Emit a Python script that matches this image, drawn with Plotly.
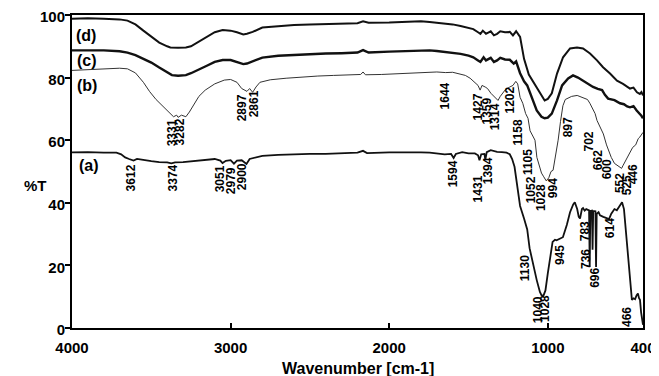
import plotly.graph_objects as go

# ---------------- data ----------------
wn_d = [4000,3900,3800,3700,3650,3600,3550,3500,3450,3400,3380,3331,3282,3250,3200,3150,3100,3050,3000,2960,2920,2897,2861,2800,2700,2600,2500,2400,2300,2200,2165,2130,2000,1900,1800,1745,1700,1650,1600,1550,1500,1470,1440,1425,1410,1390,1360,1340,1320,1300,1270,1240,1220,1200,1175,1150,1120,1090,1060,1040,1020,1000,975,942,904,860,816,778,734,690,652,608,564,526,500,482,460,438,420,410,400]
t_d = [98.8,99.0,98.8,98.6,98.2,97.0,95.0,93.0,91.2,90.0,89.6,89.5,89.6,90.0,91.5,93.2,94.5,95.2,95.0,94.5,93.8,94.0,94.6,96.0,96.5,96.8,97.0,97.2,97.3,97.4,98.0,97.5,97.6,97.8,98.0,97.8,97.6,97.4,97.0,96.5,96.0,95.5,94.5,94.0,95.0,94.0,94.8,93.5,94.0,94.8,94.5,94.6,93.5,94.8,93.0,86.0,81.0,78.5,76.0,74.0,72.7,73.2,75.0,81.3,86.5,89.3,89.6,89.3,87.7,85.5,83.3,81.3,79.0,78.0,77.2,76.5,76.8,75.3,74.8,75.4,74.3]

wn_c = [4000,3900,3800,3700,3650,3600,3550,3500,3450,3400,3370,3331,3282,3250,3200,3150,3100,3050,3000,2960,2920,2897,2861,2800,2700,2600,2500,2400,2300,2200,2165,2130,2000,1900,1800,1745,1700,1650,1600,1550,1500,1470,1440,1425,1405,1390,1360,1340,1320,1300,1270,1240,1215,1200,1175,1150,1130,1100,1070,1040,1020,1000,975,942,910,872,841,810,778,745,715,685,658,640,620,580,545,520,500,482,460,440,419,410,400]
t_c = [88.7,88.8,88.7,88.4,88.0,87.2,86.0,84.8,83.2,81.6,80.8,80.6,80.8,81.4,82.5,83.8,85.0,85.6,85.6,85.0,84.3,84.5,85.2,86.4,87.0,87.3,87.5,87.7,87.8,88.0,88.8,88.0,88.3,88.5,88.7,88.7,88.5,88.2,88.0,87.6,87.0,86.5,85.5,85.0,86.5,85.5,86.3,85.0,85.5,86.3,85.8,85.7,84.5,85.2,81.4,78.8,77.5,73.7,69.5,67.5,67.0,67.2,68.5,72.7,77.5,79.7,80.7,80.0,79.0,77.8,77.0,76.4,76.0,74.5,73.3,72.8,71.8,71.5,70.8,70.5,70.9,69.5,68.5,67.8,67.0]

wn_b = [4000,3900,3800,3700,3650,3600,3550,3510,3470,3420,3380,3360,3340,3331,3310,3282,3260,3230,3200,3160,3100,3040,3000,2960,2930,2897,2880,2861,2840,2815,2750,2650,2560,2450,2350,2250,2180,2165,2150,2050,1930,1850,1745,1700,1644,1600,1560,1520,1490,1460,1440,1427,1415,1395,1380,1359,1340,1314,1300,1270,1240,1220,1202,1190,1175,1158,1140,1125,1112,1095,1081,1069,1052,1040,1028,1010,994,980,967,950,935,920,905,890,850,815,780,750,735,702,690,662,650,630,610,600,580,565,552,535,525,500,480,465,446,430,420,410,400]
t_b = [82.3,82.5,82.8,83.0,82.8,81.5,78.5,75.5,73.0,70.5,68.5,67.5,68.0,67.3,68.0,67.5,69.0,71.5,74.0,76.0,78.0,79.2,79.4,78.5,76.5,75.6,76.5,75.3,77.0,78.5,79.3,79.8,80.2,80.5,80.7,80.8,81.0,81.8,80.9,81.0,81.2,81.5,81.7,81.8,81.6,81.7,81.2,80.7,79.8,78.5,77.5,76.0,77.5,77.0,76.5,75.0,74.0,72.7,74.0,76.0,77.0,77.5,78.8,78.0,73.7,71.8,68.5,67.0,63.0,61.5,60.0,54.5,51.5,49.5,48.5,47.0,48.0,50.0,50.4,55.0,60.0,66.0,71.0,73.0,74.0,74.3,73.7,73.0,71.8,68.5,66.3,63.0,62.0,58.5,55.8,54.5,52.6,52.0,51.4,51.0,52.0,54.5,56.0,57.7,58.5,60.5,61.0,62.0,62.5]

wn_a = [4000,3900,3800,3720,3690,3665,3640,3612,3590,3550,3500,3450,3400,3374,3350,3300,3200,3100,3065,3051,3030,3000,2979,2960,2930,2900,2880,2800,2700,2600,2500,2400,2300,2200,2165,2140,2000,1900,1800,1745,1700,1650,1610,1594,1580,1540,1500,1460,1440,1431,1420,1400,1394,1385,1360,1320,1290,1260,1240,1225,1210,1200,1190,1175,1150,1130,1115,1090,1070,1050,1040,1028,1015,1000,985,970,955,945,925,905,880,860,840,830,815,805,797,785,778,768,758,740,736,732,722,718,714,704,700,696,692,680,671,650,630,614,600,580,565,550,532,520,510,495,480,470,460,450,440,432,425,419,412,405,400]
t_a = [56.1,56.2,56.0,56.0,55.5,54.5,54.0,53.5,54.0,53.6,53.3,53.0,52.9,52.6,52.9,53.0,53.4,54.0,53.5,52.7,53.4,53.6,52.5,53.5,53.6,52.4,54.0,55.0,55.3,55.5,55.6,55.6,55.8,56.0,56.6,55.9,56.1,56.2,56.1,56.0,55.8,55.5,55.6,54.3,55.6,56.2,55.8,55.8,55.2,53.6,55.5,55.6,53.8,56.2,56.8,56.3,56.2,56.0,55.5,54.0,51.5,48.0,43.0,39.0,35.0,31.5,25.5,19.5,15.3,11.5,10.5,10.3,12.0,17.5,23.0,27.5,28.2,28.0,28.5,29.0,33.0,37.0,39.5,40.2,38.0,35.5,35.0,38.0,38.3,37.5,38.0,37.6,19.5,37.4,37.5,25.0,37.4,37.5,37.3,19.5,36.5,37.0,36.0,35.5,35.0,34.8,36.5,38.0,37.6,39.0,40.2,38.0,32.0,22.6,13.0,9.0,9.5,9.2,10.5,11.0,9.5,9.0,5.0,2.0,1.0]

curve_tags = ["(d)", "(c)", "(b)", "(a)"]

# peak labels: (text, wavenumber position, %T position)
peak_labels = [
    ("3331", 3370, 62.5), ("3282", 3319, 62.5), ("2897", 2928, 70.2), ("2861", 2852, 71.5),
    ("1644", 1648, 74.0), ("1427", 1440, 70.5), ("1359", 1383, 69.2), ("1314", 1333, 67.3),
    ("1202", 1238, 72.7), ("1158", 1188, 62.5), ("1105", 1125, 53.0), ("1052", 1106, 44.0),
    ("1028", 1043, 41.5), ("994", 967, 44.7), ("897", 873, 64.1), ("702", 740, 59.6),
    ("662", 684, 53.6), ("600", 627, 50.7), ("552", 545, 46.3), ("525", 501, 45.6), ("446", 463, 49.1),
    ("3612", 3628, 47.8), ("3374", 3363, 47.8), ("3051", 3067, 47.8), ("2979", 2998, 47.2),
    ("2900", 2928, 48.2), ("1594", 1598, 49.4), ("1431", 1440, 44.3), ("1394", 1377, 50.1),
    ("1130", 1144, 19.1), ("1040", 1062, 5.7), ("1028", 1018, 6.4), ("945", 923, 23.3),
    ("783", 766, 30.9), ("736", 760, 22.0), ("696", 703, 16.0), ("614", 608, 31.9), ("466", 501, 3.5),
]
tag_pos = [(3912, 93.5), (3905, 85.5), (3905, 77.5), (3892, 52.0)]

x_ticks = [4000, 3000, 2000, 1000, 400]
y_ticks = [0, 20, 40, 60, 80, 100]

FONT = "Liberation Sans, Arial, sans-serif"

fig = go.Figure()
for wn, t, w, col in [(wn_d, t_d, 2.0, "#111"), (wn_c, t_c, 2.4, "#111"),
                      (wn_b, t_b, 1.0, "#333"), (wn_a, t_a, 1.8, "#111")]:
    fig.add_trace(go.Scatter(x=wn, y=t, mode="lines", line=dict(color=col, width=w),
                             showlegend=False, hoverinfo="skip"))

ann = []
for txt, x, y in peak_labels:
    ann.append(dict(x=x, y=y, xref="x", yref="y", text=txt, showarrow=False, textangle=-90,
                    font=dict(family=FONT, size=12, color="black", weight="bold")))
for txt, (x, y) in zip(curve_tags, tag_pos):
    ann.append(dict(x=x, y=y, xref="x", yref="y", text=txt, showarrow=False,
                    font=dict(family=FONT, size=16, color="black", weight="bold")))
ann.append(dict(x=-0.088, y=0.455, xref="paper", yref="paper", text="%T", showarrow=False,
                font=dict(family=FONT, size=15, color="black", weight="bold")))
ann.append(dict(x=0.5, y=-0.128, xref="paper", yref="paper", text="Wavenumber [cm-1]",
                showarrow=False, yanchor="middle",
                font=dict(family=FONT, size=16, color="black", weight="bold")))

# page body has an 8px margin, so the figure is laid out 8px smaller and offset
fig.update_layout(
    width=651, height=368,
    margin=dict(l=64, r=16, t=7, b=48, autoexpand=False),
    paper_bgcolor="white", plot_bgcolor="white",
    annotations=ann,
    xaxis=dict(range=[4000, 400], tickvals=x_ticks, ticktext=[str(v) for v in x_ticks],
               ticks="inside", ticklen=5, tickwidth=1.5, tickcolor="black",
               showline=True, linewidth=2, linecolor="black", mirror=True,
               showgrid=False, zeroline=False, automargin=False, ticklabelstandoff=5,
               ticklabeloverflow="allow",
               tickfont=dict(family=FONT, size=15, color="black", weight="bold")),
    yaxis=dict(range=[0, 100], tickvals=y_ticks, automargin=False, ticklabelstandoff=-3,
               ticklabeloverflow="allow", ticklabelshift=2,
               ticks="outside", ticklen=5, tickwidth=1.5, tickcolor="black",
               showline=True, linewidth=2, linecolor="black", mirror=True,
               showgrid=False, zeroline=False,
               tickfont=dict(family=FONT, size=15, color="black", weight="bold")),
)

fig.write_html("out.html")
